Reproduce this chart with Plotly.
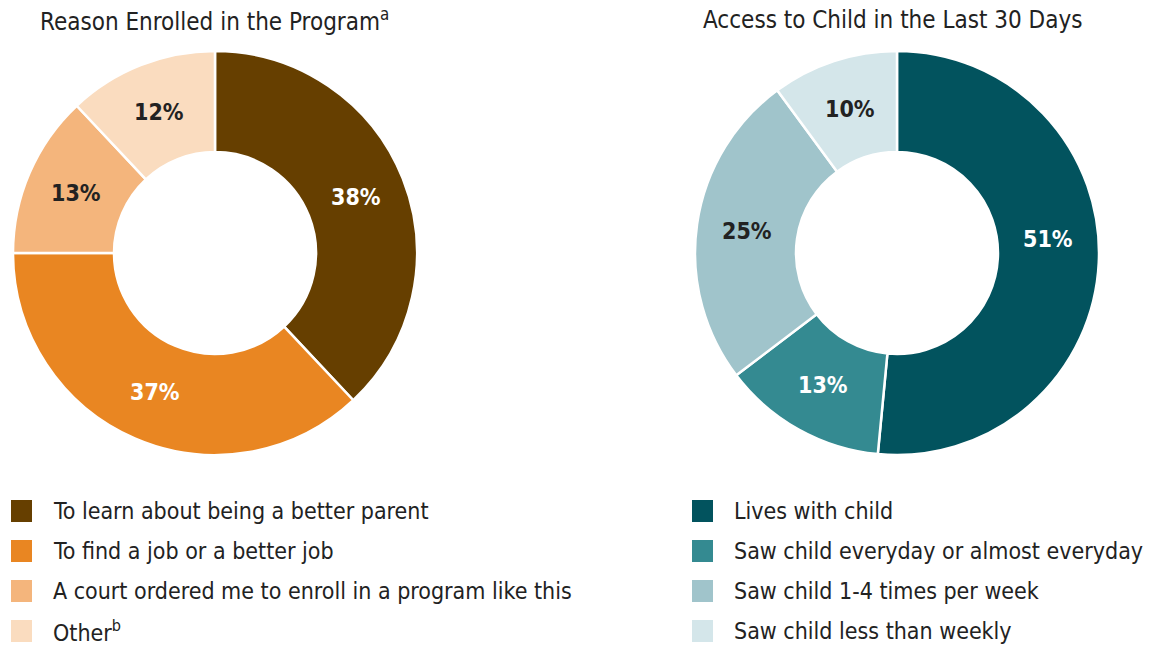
import math
import plotly.graph_objects as go

W, H = 1162, 647
FONT = "Liberation Sans Narrow, DejaVu Sans Condensed, Arial Narrow, sans-serif"

left_title = "Reason Enrolled in the Program<sup>a</sup>"
left_labels = ["To learn about being a better parent", "To find a job or a better job",
               "A court ordered me to enroll in a program like this", "Other<sup>b</sup>"]
left_values = [38, 37, 13, 12]
left_colors = ["#663F00", "#E98622", "#F4B57C", "#FADCBF"]
left_text_colors = ["white", "white", "#222222", "#222222"]
left_label_shift = [0, 0, 0, 0]          # degrees, label placement tweak

right_title = "Access to Child in the Last 30 Days"
right_labels = ["Lives with child", "Saw child everyday or almost everyday",
                "Saw child 1-4 times per week", "Saw child less than weekly"]
right_values = [51, 13, 25, 10]
right_colors = ["#02535E", "#348A91", "#A0C4CB", "#D4E6EA"]
right_text_colors = ["white", "white", "#222222", "#222222"]
right_label_shift = [-8, 0, 0, 0]


def px_x(v):
    return v / W


def px_y(v):
    return 1 - v / H


fig = go.Figure()
annotations = []
shapes = []

R = 202
CY = 253
for cx, vals, cols, tcols, shifts in [
        (215, left_values, left_colors, left_text_colors, left_label_shift),
        (897, right_values, right_colors, right_text_colors, right_label_shift)]:
    fig.add_trace(go.Pie(
        values=vals,
        textinfo="none",
        marker=dict(colors=cols, line=dict(color="white", width=2.5)),
        hole=0.5,
        sort=False,
        direction="clockwise",
        rotation=0,
        showlegend=False,
        domain=dict(x=[px_x(cx - R), px_x(cx + R)], y=[px_y(CY + R), px_y(CY - R)]),
        hoverinfo="skip",
    ))
    total = sum(vals)
    cum = 0
    rmid = R * 0.75
    for v, tc, sh in zip(vals, tcols, shifts):
        ang = math.radians((cum + v / 2) / total * 360 + sh)
        cum += v
        lx = cx + rmid * math.sin(ang)
        ly = CY - rmid * math.cos(ang)
        annotations.append(dict(text=f"<b>{v}%</b>", x=px_x(lx), y=px_y(ly),
                                xref="paper", yref="paper", xanchor="center", yanchor="middle",
                                showarrow=False,
                                font=dict(family=FONT, size=23, color=tc)))

for cx, title in [(214, left_title), (892, right_title)]:
    annotations.append(dict(text=title, x=px_x(cx), y=px_y(20), xref="paper", yref="paper",
                            xanchor="center", yanchor="middle", showarrow=False,
                            font=dict(family=FONT, size=24, color="#222222")))

rows_y = [511, 551, 591, 631]
for sx, labels, cols in [(11, left_labels, left_colors), (692, right_labels, right_colors)]:
    for i, (lab, col) in enumerate(zip(labels, cols)):
        yc = rows_y[i]
        shapes.append(dict(type="rect", xref="paper", yref="paper",
                           x0=px_x(sx), x1=px_x(sx + 21), y0=px_y(yc + 11), y1=px_y(yc - 11),
                           fillcolor=col, line=dict(width=0)))
        annotations.append(dict(text=lab, x=px_x(sx + 40), y=px_y(yc), xref="paper", yref="paper",
                                xanchor="left", yanchor="middle", showarrow=False,
                                font=dict(family=FONT, size=23, color="#222222")))

fig.update_layout(
    width=W, height=H,
    margin=dict(l=0, r=0, t=0, b=0),
    paper_bgcolor="white", plot_bgcolor="white",
    annotations=annotations, shapes=shapes,
)

fig.write_html("out.html", config={"displayModeBar": False},
               post_script="document.body.style.margin='0';document.body.style.overflow='hidden';")
